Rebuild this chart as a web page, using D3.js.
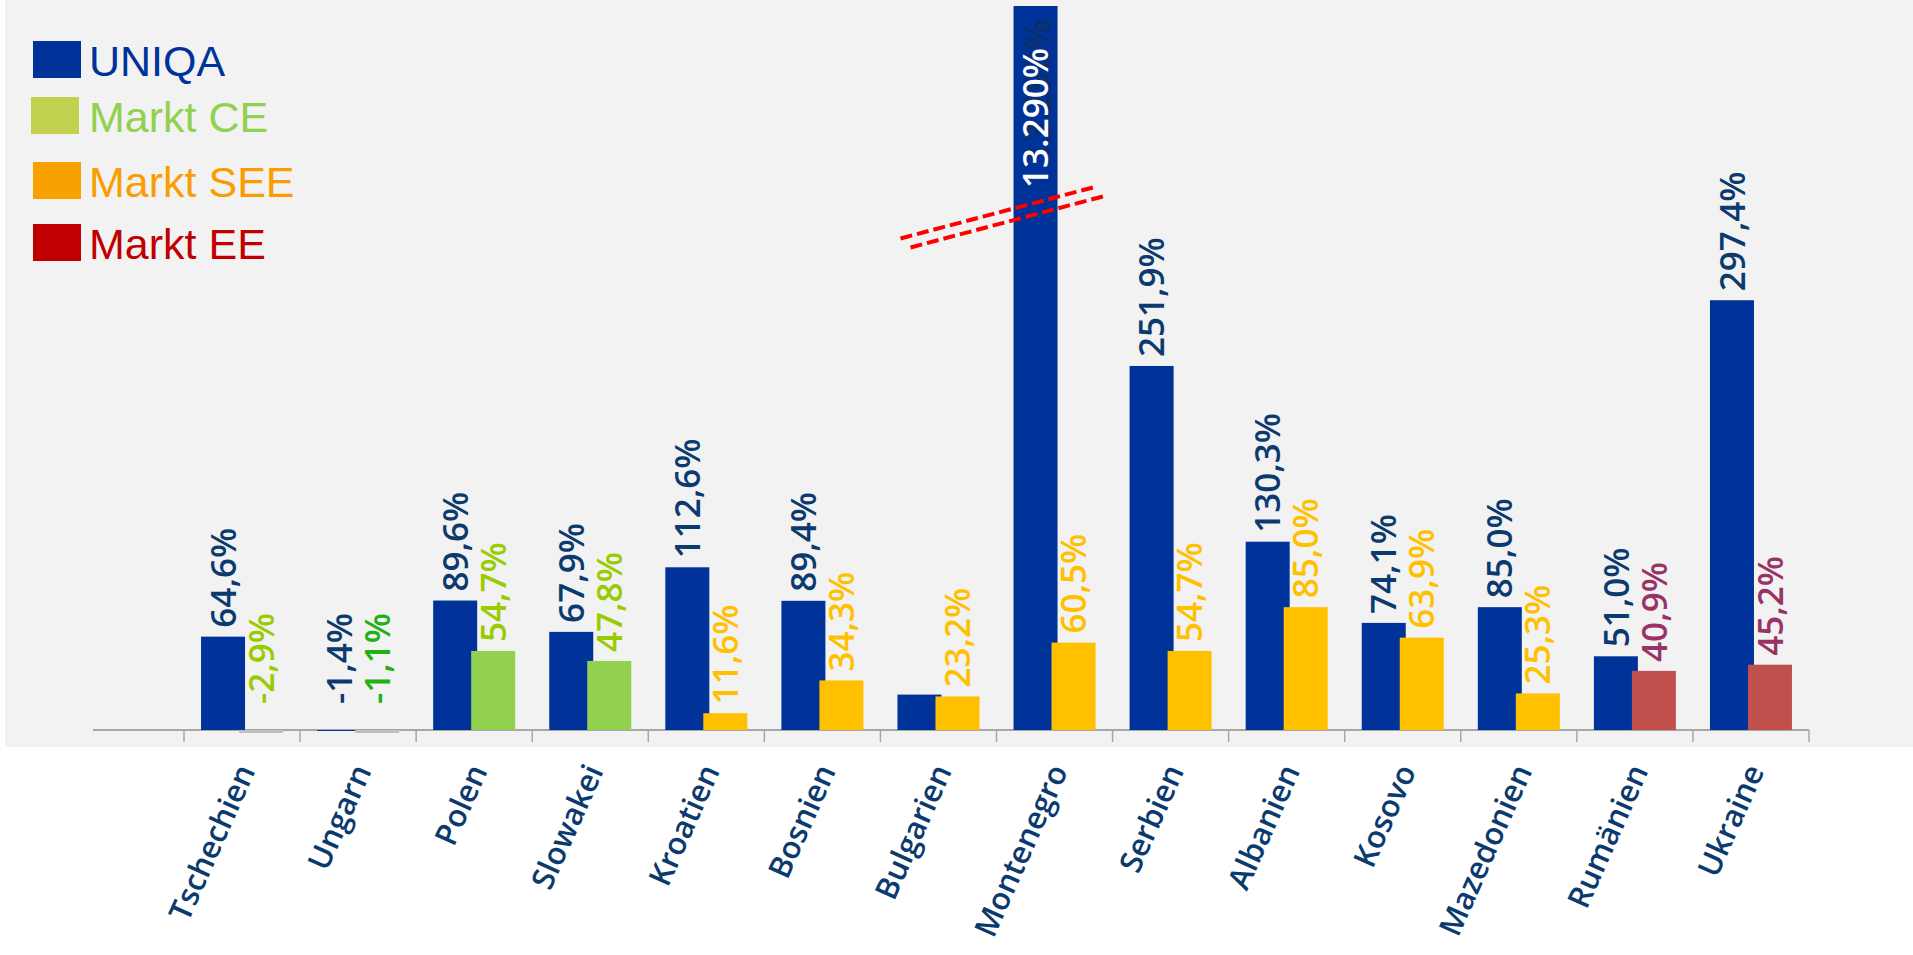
<!DOCTYPE html>
<html>
<head>
<meta charset="utf-8">
<script src="https://cdn.jsdelivr.net/npm/d3@7"></script>
<style>
  body { margin: 0; background: #ffffff; }
  svg { display: block; }
</style>
</head>
<body>
<svg id="chart" width="1913" height="955"></svg>
<script>
// DATA
const categories = ["Tschechien", "Ungarn", "Polen", "Slowakei", "Kroatien", "Bosnien", "Bulgarien",
  "Montenegro", "Serbien", "Albanien", "Kosovo", "Mazedonien", "Rumänien", "Ukraine"];
const uniqaValues = [64.6, -1.4, 89.6, 67.9, 112.6, 89.4, 24.5, 13290, 251.9, 130.3, 74.1, 85.0, 51.0, 297.4];
const uniqaLabels = ["64,6%", "-1,4%", "89,6%", "67,9%", "112,6%", "89,4%", null, "13.290%",
  "251,9%", "130,3%", "74,1%", "85,0%", "51,0%", "297,4%"];
const marketValues = [-2.9, -1.1, 54.7, 47.8, 11.6, 34.3, 23.2, 60.5, 54.7, 85.0, 63.9, 25.3, 40.9, 45.2];
const marketLabels = ["-2,9%", "-1,1%", "54,7%", "47,8%", "11,6%", "34,3%", "23,2%", "60,5%",
  "54,7%", "85,0%", "63,9%", "25,3%", "40,9%", "45,2%"];
const marketRegion = ["CE", "CE", "CE", "CE", "SEE", "SEE", "SEE", "SEE", "SEE", "SEE", "SEE", "SEE", "EE", "EE"];
const legendNames = ["UNIQA", "Markt CE", "Markt SEE", "Markt EE"];

// COLOURS
const barColor = { UNIQA: "#003399", CE: "#92d050", SEE: "#ffc000", EE: "#c0504d", neg: "#bfbfbf" };
const labelColor = { UNIQA: "#0b3a6e", CE: "#99cc00", SEE: "#ffc000", EE: "#993366" };
const legendBox = ["#003399", "#c3d150", "#f9a100", "#c00000"];
const legendText = ["#003399", "#92d050", "#f99d00", "#c00000"];

const svg = d3.select("#chart");

// background panel
svg.append("rect").attr("x", 5).attr("y", 0).attr("width", 1908).attr("height", 747).attr("fill", "#f2f2f2");

// SCALES
const x = d3.scaleBand().domain(categories).range([184, 1809]).paddingInner(0).paddingOuter(0);
const y = d3.scaleLinear().domain([0, 501]).range([730, 6]).clamp(true);
const barW = 44, overlap = 6;
const groupOff = (x.bandwidth() - (2 * barW - overlap)) / 2;

const rows = categories.map((c, i) => ({
  cat: c, u: uniqaValues[i], uLab: uniqaLabels[i],
  m: marketValues[i], mLab: marketLabels[i], reg: marketRegion[i]
}));

// AXIS LINE + TICKS
const g = svg.append("g");
g.append("line").attr("x1", 93).attr("x2", 1809).attr("y1", y(0)).attr("y2", y(0))
  .attr("stroke", "#a6a6a6").attr("stroke-width", 2);
const tickPos = categories.map(c => x(c)).concat([x.range()[1]]);
g.selectAll(".tick").data(tickPos).enter().append("line")
  .attr("x1", d => d).attr("x2", d => d).attr("y1", y(0)).attr("y2", y(0) + 12)
  .attr("stroke", "#a6a6a6").attr("stroke-width", 1.5);

// BARS
const uX = d => x(d.cat) + groupOff;
const mX = d => x(d.cat) + groupOff + barW - overlap;

g.selectAll(".bar-u").data(rows).enter().append("rect")
  .attr("x", uX).attr("width", barW)
  .attr("y", d => Math.min(y(d.u), y(0)))
  .attr("height", d => Math.max(Math.abs(y(d.u) - y(0)), 1))
  .attr("fill", barColor.UNIQA);

g.selectAll(".bar-m").data(rows).enter().append("rect")
  .attr("x", mX).attr("width", barW)
  .attr("y", d => d.m < 0 ? y(0) : y(d.m))
  .attr("height", d => Math.max(Math.abs(y(d.m) - y(0)), 3))
  .attr("fill", d => d.m < 0 ? barColor.neg : barColor[d.reg]);

// VALUE LABELS (rotated)
const labFont = "'Open Sans', 'Noto Sans', sans-serif";
const labPos = (v) => v < 0 ? y(0) - 26 : y(v) - 9;
const breakY = y(355);

// Montenegro overflow label: dark ghost behind, white on top
const broken = rows.filter(d => d.u > 501);
g.selectAll(".ghost").data(broken).enter().append("text")
  .attr("transform", d => `translate(${uX(d) + barW / 2 + 2},${breakY - 54}) rotate(-90)`)
  .attr("dy", "0.36em").attr("font-family", labFont).attr("font-weight", 600).attr("font-size", 36)
  .attr("fill", "#0a2f6b").text(d => d.uLab);

g.selectAll(".lab-u").data(rows.filter(d => d.uLab)).enter().append("text")
  .attr("transform", d => d.u > 501
    ? `translate(${uX(d) + barW / 2},${breakY - 29}) rotate(-90)`
    : `translate(${uX(d) + barW / 2},${labPos(d.u)}) rotate(-90)`)
  .attr("dy", "0.36em").attr("font-family", labFont).attr("font-weight", 600).attr("font-size", 35)
  .attr("fill", d => d.u > 501 ? "#ffffff" : labelColor.UNIQA)
  .text(d => d.uLab);

g.selectAll(".lab-m").data(rows).enter().append("text")
  .attr("transform", d => `translate(${mX(d) + barW / 2},${labPos(d.m)}) rotate(-90)`)
  .attr("dy", "0.36em").attr("font-family", labFont).attr("font-weight", 600).attr("font-size", 35)
  .attr("fill", (d, i) => (d.m < 0 && i === 1) ? "#22b014" : labelColor[d.reg])
  .text(d => d.mLab);

// AXIS BREAK MARKS on the overflowing bar
broken.forEach(d => {
  const cx = uX(d) + barW / 2 - 32;
  [-5, 5].forEach(o => {
    g.append("line")
      .attr("x1", cx - 98 + o).attr("y1", breakY + 26 + o * 0.9)
      .attr("x2", cx + 98 + o).attr("y2", breakY - 26 + o * 0.9)
      .attr("stroke", "#ff0000").attr("stroke-width", 4).attr("stroke-dasharray", "12 5");
  });
});

// CATEGORY LABELS
g.selectAll(".cat").data(categories).enter().append("text")
  .attr("transform", d => `translate(${x(d) + x.bandwidth() / 2 - 6},${762}) rotate(-66)`)
  .attr("text-anchor", "end").attr("dy", "0.7em")
  .attr("font-family", labFont).attr("font-weight", 600).attr("font-size", 31)
  .attr("fill", "#0b3a6e").text(d => d);

// LEGEND
const legY = [41, 97, 162, 224];
const legX = [33, 31, 33, 33];
const leg = svg.append("g").selectAll("g").data(legendNames).enter().append("g");
leg.append("rect").attr("x", (d, i) => legX[i]).attr("y", (d, i) => legY[i])
  .attr("width", 48).attr("height", 37).attr("fill", (d, i) => legendBox[i]);
leg.append("text").attr("x", 89).attr("y", (d, i) => legY[i] + 35)
  .attr("font-family", "'Liberation Sans', Arial, sans-serif").attr("font-size", 43)
  .attr("fill", (d, i) => legendText[i]).text(d => d);
</script>
</body>
</html>
